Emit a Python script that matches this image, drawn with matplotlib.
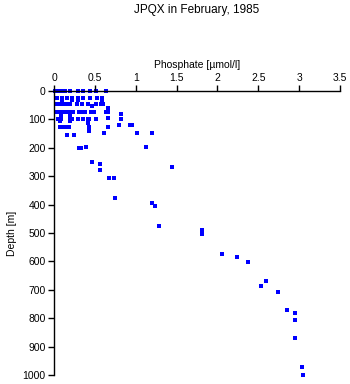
## JPQX phosphate profile
import matplotlib
matplotlib.use('Agg')
import matplotlib.pyplot as plt

plt.rcParams['font.family'] = ['Liberation Sans', 'DejaVu Sans']

# depth [m] and phosphate [umol/l]
depth = [0]*12 + [25]*9 + [30]*4 + [47]*12 + [53, 60] + [75]*13 + [80, 86, 86, 95] \
    + [100]*10 + [104]*3 + [114] + [121]*3 + [128]*6 + [140] + [149]*3 + [154]*2 \
    + [198, 198, 201, 201, 250, 257, 269, 278, 305, 305, 376, 394, 404, 475, 489, 503,
       575, 585, 603, 670, 688, 708, 770, 783, 807, 869, 971, 1000]
phosphate = [0.01, 0.03, 0.05, 0.07, 0.10, 0.14, 0.20, 0.29, 0.35, 0.44, 0.52, 0.64,
             0.04, 0.10, 0.16, 0.22, 0.29, 0.35, 0.44, 0.53, 0.59,
             0.10, 0.22, 0.29, 0.59,
             0.02, 0.05, 0.08, 0.12, 0.15, 0.20, 0.28, 0.34, 0.42, 0.52, 0.58, 0.60,
             0.46, 0.66,
             0.03, 0.06, 0.09, 0.13, 0.18, 0.23, 0.30, 0.36, 0.38, 0.45, 0.49, 0.64, 0.66,
             0.82, 0.09, 0.19, 0.66,
             0.05, 0.09, 0.20, 0.22, 0.29, 0.36, 0.41, 0.43, 0.52, 0.82,
             0.07, 0.19, 0.42,
             0.42,
             0.79, 0.93, 0.95,
             0.07, 0.11, 0.16, 0.18, 0.43, 0.66,
             0.43,
             0.61, 1.02, 1.20,
             0.16, 0.24,
             1.12, 0.39, 0.31, 0.33, 0.46, 0.56, 1.45, 0.56, 0.67, 0.74, 0.75, 1.20, 1.24,
             1.28, 1.81, 1.81, 2.06, 2.24, 2.37, 2.60, 2.53, 2.74, 2.85, 2.95, 2.95, 2.95,
             3.03, 3.05]

xticks = [0, 0.5, 1, 1.5, 2, 2.5, 3, 3.5]
xticklabels = ['0', '0.5', '1', '1.5', '2', '2.5', '3', '3.5']
yticks = [0, 100, 200, 300, 400, 500, 600, 700, 800, 900, 1000]

fig = plt.figure(figsize=(3.5, 3.84), dpi=100)
ax = fig.add_axes([54/350, 1 - 375/384, 286/350, 284/384])

ax.scatter(phosphate, depth, marker='s', s=7, color='#0000ff', linewidths=0, clip_on=False)

ax.set_xlim(0, 3.5)
ax.set_ylim(1000, 0)
ax.xaxis.tick_top()
ax.xaxis.set_label_position('top')
ax.set_xticks(xticks)
ax.set_xticklabels(xticklabels)
ax.set_yticks(yticks)
ax.tick_params(direction='out', length=4, width=1, labelsize=7.5, pad=2)
for s in ['right', 'bottom']:
    ax.spines[s].set_visible(False)
for s in ['top', 'left']:
    ax.spines[s].set_linewidth(1)

ax.set_xlabel('Phosphate [µmol/l]', fontsize=7.5, labelpad=3)
ax.set_ylabel('Depth [m]', fontsize=7.5, labelpad=4)
fig.text(197/350, 1 - 10/384, 'JPQX in February, 1985', ha='center', va='center', fontsize=8.5)

fig.savefig('out.png', dpi=100)
